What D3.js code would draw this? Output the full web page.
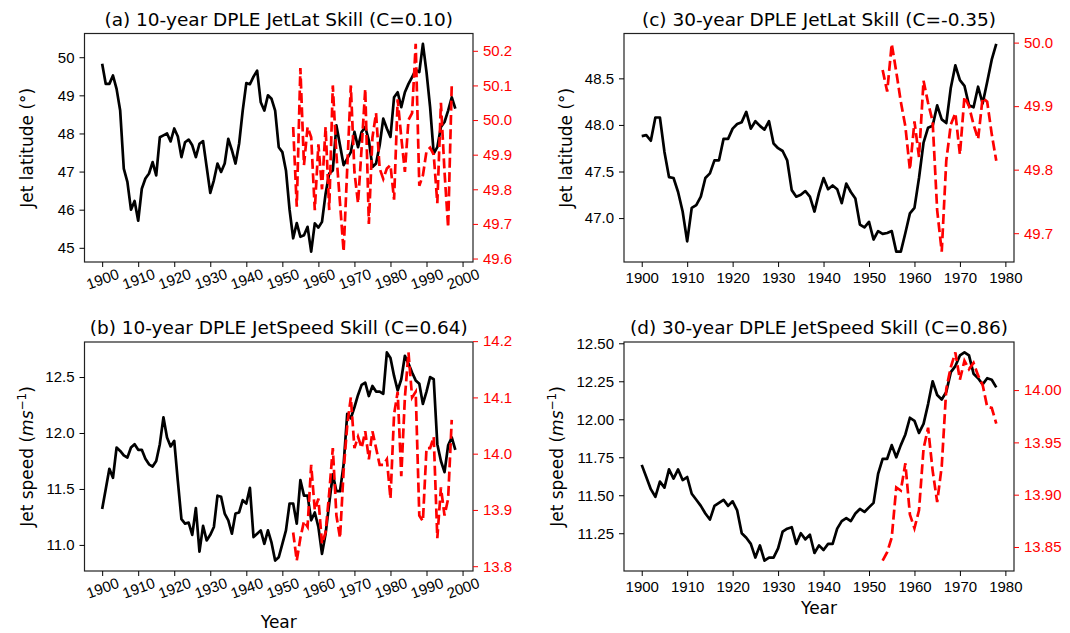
<!DOCTYPE html>
<html>
<head>
<meta charset="utf-8">
<script src="https://cdn.jsdelivr.net/npm/d3@7"></script>
<style>
  body { margin: 0; background: #fff; }
  svg { font-family: "DejaVu Sans", sans-serif; }
</style>
</head>
<body>
<svg id="chart" width="1070" height="633"></svg>
<script>
// years of the observed series and of the DPLE hindcasts
const years10 = d3.range(1900, 1999);
const dpleYears10 = d3.range(1953, 1998);
const years30 = d3.range(1900, 1979);
const dpleYears30 = d3.range(1953, 1979);

// (a) 10-year jet latitude
const jetLat10Obs = [
  49.83, 49.30, 49.30, 49.52, 49.17, 48.60, 47.08, 46.73, 46.00, 46.23,
  45.71, 46.55, 46.82, 46.95, 47.25, 46.90, 47.90, 47.95, 48.00, 47.79,
  48.13, 47.92, 47.38, 47.77, 47.84, 47.69, 47.38, 47.73, 47.80, 47.12,
  46.44, 46.77, 47.21, 46.99, 47.21, 47.86, 47.56, 47.21, 47.73, 48.60,
  49.32, 49.29, 49.49, 49.65, 48.82, 48.60, 49.00, 48.91, 48.60, 47.64,
  47.51, 47.03, 46.00, 45.25, 45.65, 45.29, 45.33, 45.55, 44.90, 45.64,
  45.53, 45.68, 46.42, 46.95, 47.03, 48.21, 47.69, 47.17, 47.34, 47.51,
  48.04, 47.64, 48.04, 48.17, 47.82, 47.12, 47.21, 47.69, 48.39, 48.13,
  47.91, 48.95, 49.08, 48.69, 49.08, 49.30, 49.48, 49.67, 49.61, 50.35,
  49.61, 48.69, 47.47, 47.64, 48.17, 48.30, 48.60, 48.95, 48.65
];
const jetLat10Dple = [
  49.98, 49.75, 50.15, 49.87, 49.98, 49.95, 49.74, 49.93, 49.80, 49.98,
  49.74, 50.10, 49.90, 49.76, 49.62, 49.86, 50.10, 49.85, 49.76, 49.92,
  50.09, 49.70, 49.95, 50.02, 49.86, 49.83, 49.86, 49.87, 49.77, 50.06,
  49.95, 49.85, 50.00, 50.02, 50.22, 49.81, 49.84, 49.91, 49.92, 49.90,
  49.76, 50.05, 49.85, 49.69, 50.10
];

// (b) 10-year jet speed
const jetSpeed10Obs = [
  11.32, 11.50, 11.68, 11.60, 11.87, 11.84, 11.80, 11.78, 11.87, 11.90,
  11.85, 11.85, 11.77, 11.72, 11.70, 11.75, 11.90, 12.14, 11.96, 11.88,
  11.93, 11.57, 11.23, 11.19, 11.20, 11.09, 11.33, 10.94, 11.17, 11.04,
  11.09, 11.16, 11.44, 11.43, 11.28, 11.22, 11.10, 11.28, 11.29, 11.40,
  11.37, 11.51, 11.07, 11.10, 11.13, 11.01, 11.13, 11.02, 10.86, 10.89,
  11.01, 11.13, 11.37, 11.37, 11.19, 11.58, 11.44, 11.44, 11.22, 11.29,
  11.16, 10.92, 11.10, 11.37, 11.63, 11.48, 11.48, 11.72, 12.17, 12.13,
  12.23, 12.34, 12.43, 12.45, 12.33, 12.42, 12.37, 12.37, 12.35, 12.72,
  12.67, 12.51, 12.38, 12.48, 12.69, 12.62, 12.54, 12.47, 12.44, 12.26,
  12.37, 12.50, 12.48, 11.90, 11.75, 11.65, 11.89, 11.96, 11.85
];
const jetSpeed10Dple = [
  13.86, 13.81, 13.85, 13.88, 13.87, 13.98, 13.90, 13.92, 13.84, 13.86,
  13.93, 14.01, 13.89, 13.85, 13.97, 14.05, 14.10, 14.01, 14.03, 14.01,
  14.04, 13.99, 14.04, 14.01, 13.98, 13.98, 13.99, 13.92, 14.07, 14.11,
  13.96, 14.10, 14.18, 14.10, 14.11, 13.89, 13.88, 14.01, 14.01, 14.03,
  13.85, 13.94, 13.89, 13.92, 14.06
];

// (c) 30-year jet latitude
const jetLat30Obs = [
  47.88, 47.89, 47.83, 48.08, 48.08, 47.71, 47.44, 47.43, 47.28, 47.07,
  46.75, 47.11, 47.14, 47.23, 47.43, 47.48, 47.62, 47.62, 47.85, 47.85,
  47.96, 48.01, 48.03, 48.14, 47.96, 48.04, 47.99, 47.95, 48.04, 47.80,
  47.75, 47.72, 47.62, 47.30, 47.23, 47.25, 47.29, 47.23, 47.07, 47.27,
  47.43, 47.31, 47.35, 47.31, 47.16, 47.37, 47.28, 47.21, 46.93, 46.90,
  46.96, 46.77, 46.86, 46.83, 46.84, 46.86, 46.64, 46.64, 46.84, 47.05,
  47.11, 47.43, 47.81, 47.97, 47.99, 48.21, 48.06, 48.02, 48.40, 48.64,
  48.48, 48.42, 48.21, 48.19, 48.41, 48.23, 48.46, 48.70, 48.87
];
const jetLat30Dple = [
  49.957, 49.923, 49.998, 49.954, 49.907, 49.868, 49.800, 49.876, 49.820, 49.940,
  49.905, 49.876, 49.736, 49.671, 49.814, 49.871, 49.889, 49.824, 49.915, 49.900,
  49.871, 49.848, 49.913, 49.907, 49.856, 49.814
];

// (d) 30-year jet speed
const jetSpeed30Obs = [
  11.70, 11.62, 11.54, 11.49, 11.59, 11.55, 11.67, 11.61, 11.67, 11.60,
  11.62, 11.51, 11.47, 11.43, 11.38, 11.34, 11.43, 11.45, 11.47, 11.43,
  11.46, 11.40, 11.25, 11.22, 11.18, 11.09, 11.17, 11.07, 11.09, 11.09,
  11.15, 11.26, 11.28, 11.29, 11.18, 11.25, 11.21, 11.24, 11.12, 11.17,
  11.14, 11.18, 11.18, 11.28, 11.33, 11.35, 11.33, 11.38, 11.41, 11.39,
  11.42, 11.45, 11.64, 11.74, 11.74, 11.83, 11.75, 11.83, 11.90, 12.01,
  11.99, 11.91, 11.97, 12.10, 12.25, 12.16, 12.13, 12.18, 12.31, 12.35,
  12.42, 12.44, 12.42, 12.30, 12.27, 12.23, 12.27, 12.26, 12.21
];
const jetSpeed30Dple = [
  13.837, 13.845, 13.859, 13.907, 13.904, 13.930, 13.881, 13.868, 13.885, 13.944,
  13.964, 13.923, 13.893, 13.927, 14.001, 14.022, 14.036, 14.010, 14.028, 14.020,
  14.026, 14.014, 14.005, 13.984, 13.983, 13.968
];

// tick labels
const xTicks10 = [1900, 1910, 1920, 1930, 1940, 1950, 1960, 1970, 1980, 1990, 2000];
const xTicks30 = [1900, 1910, 1920, 1930, 1940, 1950, 1960, 1970, 1980];
const latTicks10 = [45, 46, 47, 48, 49, 50];
const dpleLatTicks10 = [49.6, 49.7, 49.8, 49.9, 50.0, 50.1, 50.2];
const speedTicks10 = [11.0, 11.5, 12.0, 12.5];
const dpleSpeedTicks10 = [13.8, 13.9, 14.0, 14.1, 14.2];
const latTicks30 = [47.0, 47.5, 48.0, 48.5];
const dpleLatTicks30 = [49.7, 49.8, 49.9, 50.0];
const speedTicks30 = [11.25, 11.5, 11.75, 12.0, 12.25, 12.5];
const dpleSpeedTicks30 = [13.85, 13.9, 13.95, 14.0];

const panels = [
  {
    title: '(a) 10-year DPLE JetLat Skill (C=0.10)',
    box: { l: 84.5, r: 473, t: 33.5, b: 262 },
    years: years10, obs: jetLat10Obs, dpleYears: dpleYears10, dple: jetLat10Dple,
    xTicks: xTicks10, rotate: true,
    leftTicks: latTicks10, leftFmt: 'd', rightTicks: dpleLatTicks10, rightFmt: '.1f',
    ylabel: 'lat', ylabelX: 27, xlabel: false,
  },
  {
    title: '(b) 10-year DPLE JetSpeed Skill (C=0.64)',
    box: { l: 84.5, r: 473, t: 342, b: 571 },
    years: years10, obs: jetSpeed10Obs, dpleYears: dpleYears10, dple: jetSpeed10Dple,
    xTicks: xTicks10, rotate: true,
    leftTicks: speedTicks10, leftFmt: '.1f', rightTicks: dpleSpeedTicks10, rightFmt: '.1f',
    ylabel: 'speed', ylabelX: 27, xlabel: true, xlabelY: 628,
  },
  {
    title: '(c) 30-year DPLE JetLat Skill (C=-0.35)',
    box: { l: 624, r: 1014, t: 33.5, b: 262 },
    years: years30, obs: jetLat30Obs, dpleYears: dpleYears30, dple: jetLat30Dple,
    xTicks: xTicks30, rotate: false,
    leftTicks: latTicks30, leftFmt: '.1f', rightTicks: dpleLatTicks30, rightFmt: '.1f',
    ylabel: 'lat', ylabelX: 566, xlabel: false,
  },
  {
    title: '(d) 30-year DPLE JetSpeed Skill (C=0.86)',
    box: { l: 624, r: 1014, t: 342, b: 571 },
    years: years30, obs: jetSpeed30Obs, dpleYears: dpleYears30, dple: jetSpeed30Dple,
    xTicks: xTicks30, rotate: false,
    leftTicks: speedTicks30, leftFmt: '.2f', rightTicks: dpleSpeedTicks30, rightFmt: '.2f',
    ylabel: 'speed', ylabelX: 557, xlabel: true, xlabelY: 614,
  },
];

const svg = d3.select('#chart');

// matplotlib-style autoscale: data extent plus 5% margin
function padded(values) {
  const [lo, hi] = d3.extent(values);
  const m = (hi - lo) * 0.05;
  return [lo - m, hi + m];
}

function drawPanel(p) {
  const { l, r, t, b } = p.box;
  const x = d3.scaleLinear().domain(padded(p.years)).range([l, r]);
  const yL = d3.scaleLinear().domain(padded(p.obs)).range([b, t]);
  const yR = d3.scaleLinear().domain(padded(p.dple)).range([b, t]);

  const g = svg.append('g');

  // observed (black)
  const obsLine = d3.line().x((d, i) => x(p.years[i])).y((d) => yL(d));
  g.append('path')
    .datum(p.obs)
    .attr('d', obsLine)
    .attr('fill', 'none')
    .attr('stroke', '#000')
    .attr('stroke-width', 2.7)
    .attr('stroke-linejoin', 'round');

  // DPLE (red dashed, on twin axis)
  const dpleLine = d3.line().x((d, i) => x(p.dpleYears[i])).y((d) => yR(d));
  g.append('path')
    .datum(p.dple)
    .attr('d', dpleLine)
    .attr('fill', 'none')
    .attr('stroke', '#ff0000')
    .attr('stroke-width', 2.7)
    .attr('stroke-dasharray', '10,4.3');

  // frame
  g.append('rect')
    .attr('x', l).attr('y', t)
    .attr('width', r - l).attr('height', b - t)
    .attr('fill', 'none')
    .attr('stroke', '#222')
    .attr('stroke-width', 1.2);

  // x axis
  const xAxis = g.append('g')
    .attr('transform', `translate(0,${b})`)
    .call(d3.axisBottom(x).tickValues(p.xTicks).tickFormat(d3.format('d')).tickSize(5).tickPadding(5));
  xAxis.select('.domain').remove();
  xAxis.selectAll('text').attr('font-size', 15).attr('fill', '#000');
  if (p.rotate) {
    xAxis.selectAll('text')
      .attr('y', 0)
      .attr('dy', '0.35em')
      .attr('transform', 'translate(0,17) rotate(-20)');
  } else {
    xAxis.selectAll('text').attr('y', 10).attr('dy', '0.76em');
  }

  // left axis
  const leftAxis = g.append('g')
    .attr('transform', `translate(${l},0)`)
    .call(d3.axisLeft(yL).tickValues(p.leftTicks).tickFormat(d3.format(p.leftFmt)).tickSize(5).tickPadding(5));
  leftAxis.select('.domain').remove();
  leftAxis.selectAll('text').attr('font-size', 15).attr('fill', '#000');

  // right axis (red)
  const rightAxis = g.append('g')
    .attr('transform', `translate(${r},0)`)
    .attr('color', '#ff0000')
    .call(d3.axisRight(yR).tickValues(p.rightTicks).tickFormat(d3.format(p.rightFmt)).tickSize(5).tickPadding(5));
  rightAxis.select('.domain').remove();
  rightAxis.selectAll('text').attr('font-size', 15);

  // title
  g.append('text')
    .attr('x', (l + r) / 2)
    .attr('y', t - 8)
    .attr('text-anchor', 'middle')
    .attr('font-size', 18.5)
    .text(p.title);

  // y label
  const yl = g.append('text')
    .attr('transform', `translate(${p.ylabelX},${(t + b) / 2}) rotate(-90)`)
    .attr('text-anchor', 'middle')
    .attr('dy', '0.35em')
    .attr('font-size', 17);
  if (p.ylabel === 'lat') {
    yl.text('Jet latitude (°)');
  } else {
    yl.append('tspan').text('Jet speed (');
    yl.append('tspan').attr('font-style', 'italic').text('ms');
    yl.append('tspan').attr('font-size', 12).attr('dy', -7).text('−1');
    yl.append('tspan').attr('dy', 7).text(')');
  }

  // x label
  if (p.xlabel) {
    g.append('text')
      .attr('x', (l + r) / 2)
      .attr('y', p.xlabelY)
      .attr('text-anchor', 'middle')
      .attr('font-size', 17)
      .text('Year');
  }
}

panels.forEach(drawPanel);
</script>
</body>
</html>
